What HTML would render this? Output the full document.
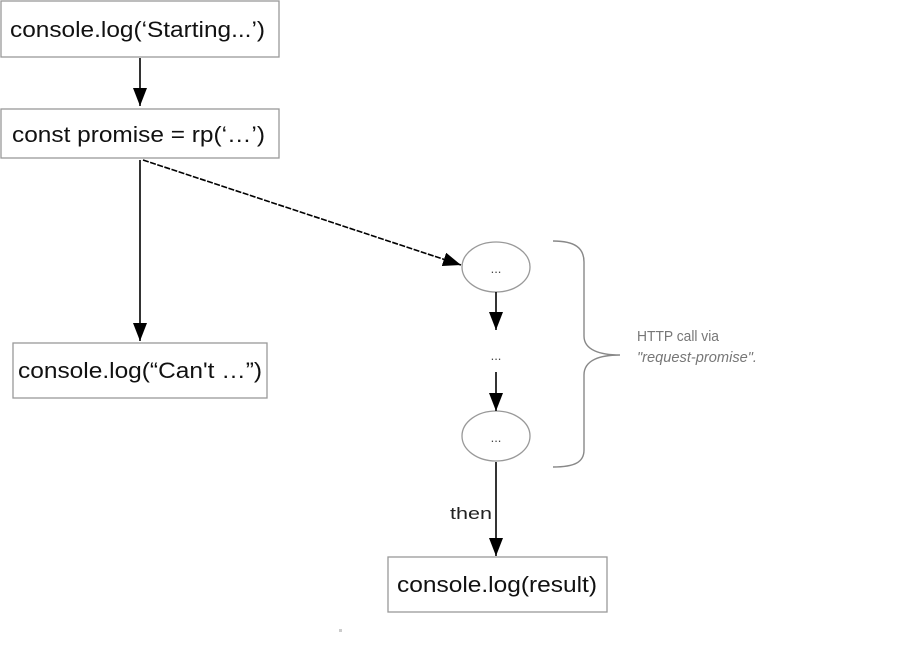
<!DOCTYPE html>
<html><head><meta charset="utf-8"><style>
html,body{margin:0;padding:0;background:#fff;width:910px;height:648px;overflow:hidden}
</style></head><body>
<svg width="910" height="648" viewBox="0 0 910 648" xmlns="http://www.w3.org/2000/svg" font-family="Liberation Sans, sans-serif">
<defs>
<marker id="b" viewBox="0 0 10 10" markerWidth="18" markerHeight="14" refX="10" refY="5" orient="auto" markerUnits="userSpaceOnUse" preserveAspectRatio="none"><path d="M0,0 L10,5 L0,10 z" fill="#000"/></marker></defs>
<g fill="#fff" stroke="#999" stroke-width="1.3">
<rect x="1" y="1" width="278" height="56"/>
<rect x="1" y="109" width="278" height="49"/>
<rect x="13" y="343" width="254" height="55"/>
<rect x="388" y="557" width="219" height="55"/>
<ellipse cx="496" cy="267" rx="34" ry="25"/>
<ellipse cx="496" cy="436" rx="34" ry="25"/>
</g>
<g stroke="#000" stroke-width="1.6" fill="none">
<line x1="140" y1="58" x2="140" y2="106" marker-end="url(#b)"/>
<line x1="140" y1="160" x2="140" y2="341" marker-end="url(#b)"/>
<line x1="143" y1="160" x2="461" y2="265" stroke-dasharray="6,1.5" marker-end="url(#b)"/>
<line x1="496" y1="292" x2="496" y2="330" marker-end="url(#b)"/>
<line x1="496" y1="372" x2="496" y2="411" marker-end="url(#b)"/>
<line x1="496" y1="462" x2="496" y2="556" marker-end="url(#b)"/>
</g>
<path d="M553,241 C575,241 584,248 584,262 L584,336 C584,350 600,355 620,355 C600,355 584,360 584,375 L584,450 C584,462 575,467 553,467" fill="none" stroke="#888" stroke-width="1.4"/>
<g font-size="22" fill="#111">
<text x="10" y="37" textLength="255" lengthAdjust="spacingAndGlyphs">console.log(‘Starting...’)</text>
<text x="12" y="142" textLength="253" lengthAdjust="spacingAndGlyphs">const promise = rp(‘…’)</text>
<text x="18" y="378" textLength="244" lengthAdjust="spacingAndGlyphs">console.log(“Can't …”)</text>
<text x="397" y="592" textLength="200" lengthAdjust="spacingAndGlyphs">console.log(result)</text>
</g>
<g font-size="13" fill="#444" text-anchor="middle">
<text x="496" y="273">...</text>
<text x="496" y="360">...</text>
<text x="496" y="442">...</text>
</g>
<text x="450" y="519" font-size="17" fill="#222" textLength="42" lengthAdjust="spacingAndGlyphs">then</text>
<text x="637" y="341" font-size="15" fill="#777" textLength="82" lengthAdjust="spacingAndGlyphs">HTTP call via</text>
<text x="637" y="362" font-size="15" fill="#777" font-style="italic" textLength="120" lengthAdjust="spacingAndGlyphs">"request-promise".</text>
<rect x="339" y="629" width="3" height="3" fill="#ccc"/>
</svg>
</body></html>
